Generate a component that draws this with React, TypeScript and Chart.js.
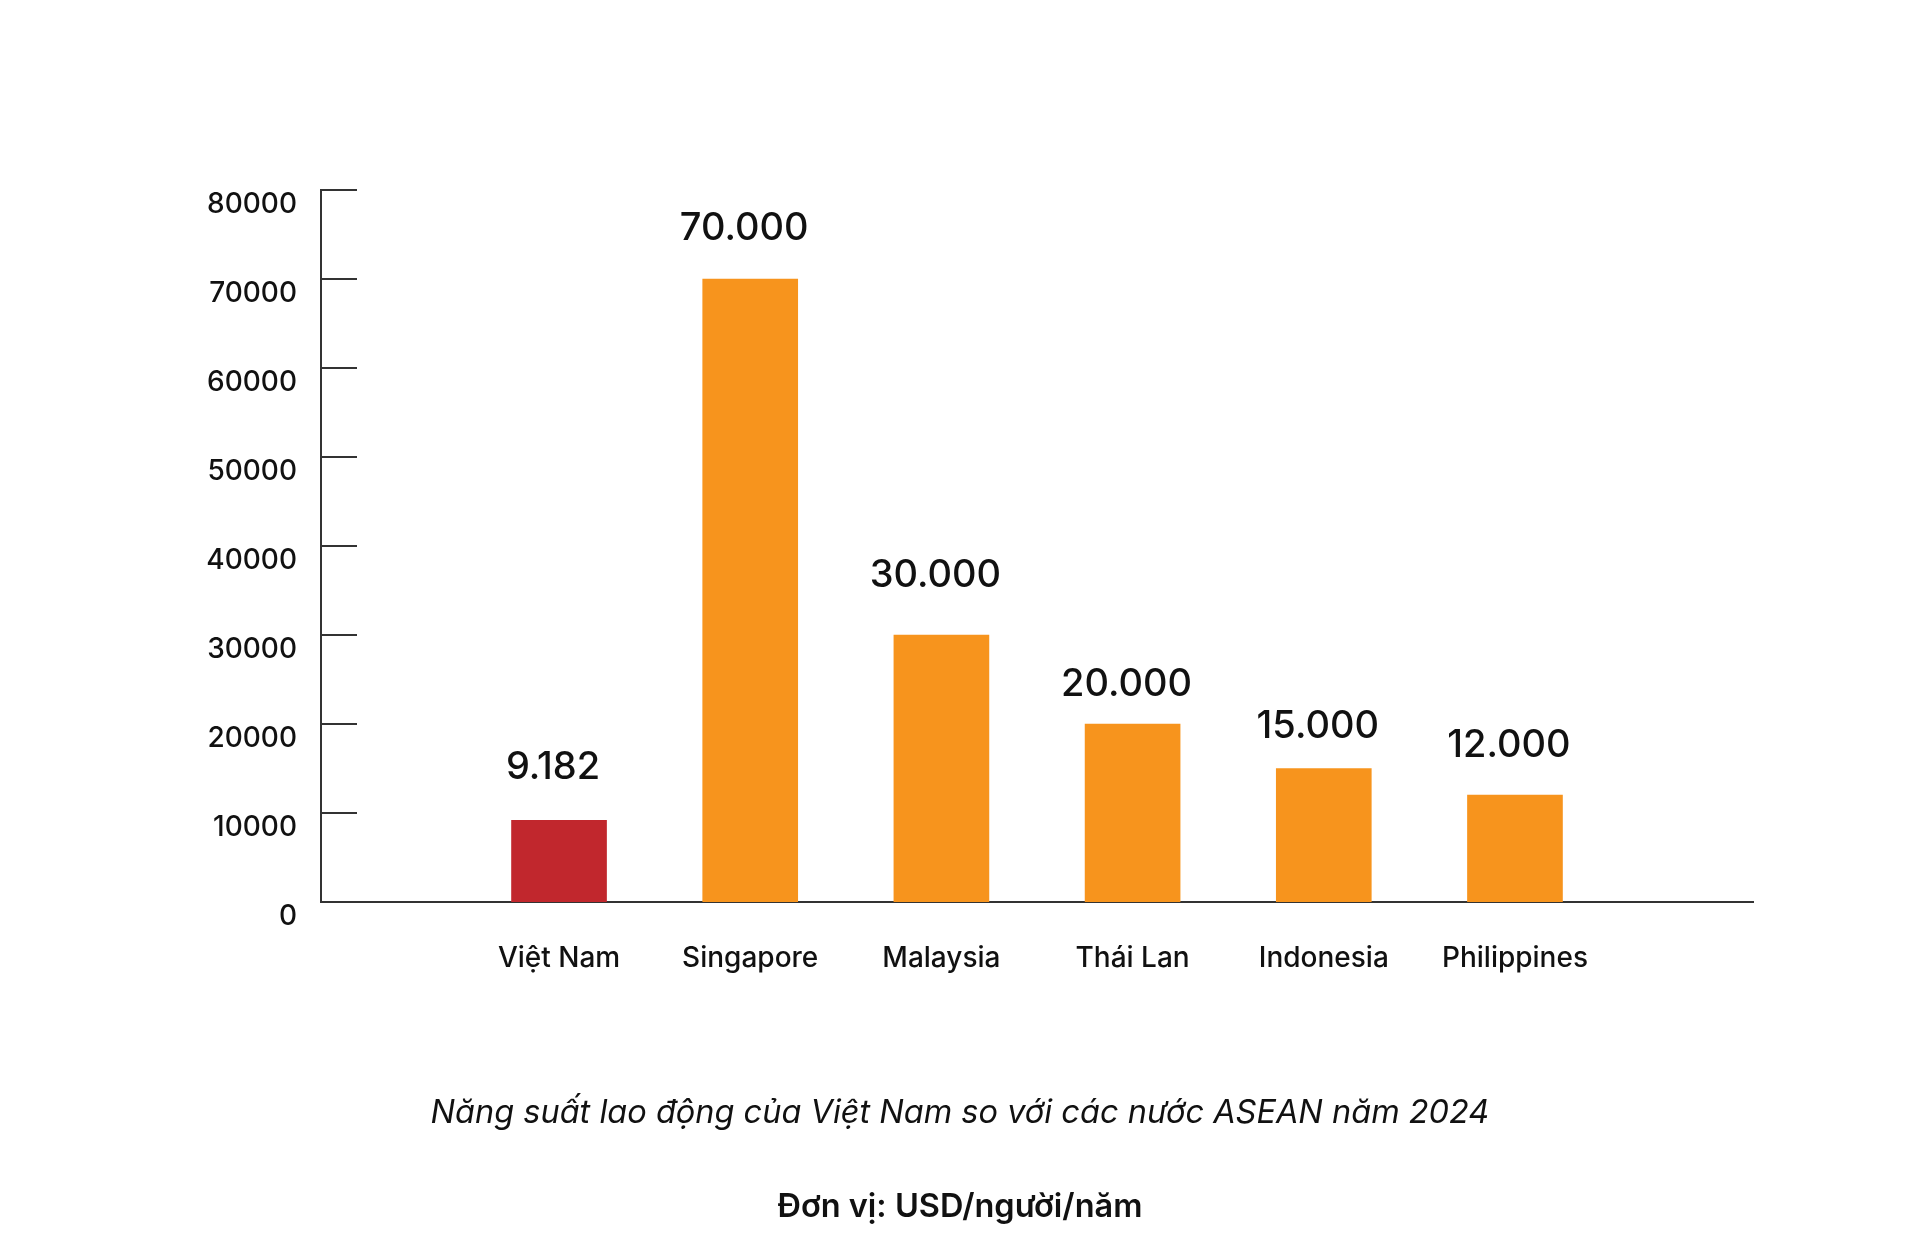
import React, { useEffect, useRef } from "react";
import { Chart, registerables } from "chart.js";

Chart.register(...registerables);

const categories = ["Việt Nam", "Singapore", "Malaysia", "Thái Lan", "Indonesia", "Philippines"];
const values = [9182, 70000, 30000, 20000, 15000, 12000];
const barColors = ["#C1272D", "#F7941D", "#F7941D", "#F7941D", "#F7941D", "#F7941D"];
const yTicks = [0, 10000, 20000, 30000, 40000, 50000, 60000, 70000, 80000];
const caption = "Năng suất lao động của Việt Nam so với các nước ASEAN năm 2024";
const unitText = "Đơn vị: USD/người/năm";

// style: gap (px) between each bar top and its value label baseline
const labelGap = [41, 39, 48, 28, 31, 38];

const FONT = "Inter, 'Open Sans', sans-serif";

function fmt(v: number): string {
  return String(v).replace(/\B(?=(\d{3})+(?!\d))/g, ".");
}

const innerTicks = {
  id: "innerTicks",
  afterDatasetsDraw(chart: any) {
    const y = chart.scales.y;
    const ctx = chart.ctx;
    ctx.save();
    ctx.strokeStyle = "#333";
    ctx.lineWidth = 2;
    for (const t of yTicks) {
      const py = Math.round(y.getPixelForValue(t));
      ctx.beginPath();
      ctx.moveTo(y.right, py);
      ctx.lineTo(y.right + 36, py);
      ctx.stroke();
    }
    ctx.restore();
  },
};

const valueLabels = {
  id: "valueLabels",
  afterDatasetsDraw(chart: any) {
    const ctx = chart.ctx;
    const meta = chart.getDatasetMeta(0);
    ctx.save();
    ctx.fillStyle = "#111";
    ctx.font = `500 38px ${FONT}`;
    ctx.textAlign = "center";
    ctx.textBaseline = "alphabetic";
    meta.data.forEach((el: any, i: number) => {
      ctx.fillText(fmt(values[i]), el.x - 6, el.y - labelGap[i]);
    });
    ctx.restore();
  },
};

export default function App() {
  const ref = useRef<HTMLCanvasElement | null>(null);
  useEffect(() => {
    document.body.style.margin = "0";
    if (!ref.current) return;
    const chart = new Chart(ref.current, {
      type: "bar",
      data: {
        datasets: [
          {
            data: values.map((v, i) => ({ x: i, y: v })),
            backgroundColor: barColors,
            barThickness: 95,
            borderWidth: 0,
          },
        ],
      },
      options: {
        animation: false,
        responsive: false,
        layout: { padding: { left: 0, right: 167, top: 190, bottom: 0 } },
        plugins: { legend: { display: false }, tooltip: { enabled: false } },
        scales: {
          x: {
            type: "linear",
            offset: false,
            min: -1.245,
            max: 6.245,
            afterFit: (s: any) => {
              s.height = 358;
            },
            grid: { display: false, drawTicks: false, offset: false },
            border: { display: true, color: "#333", width: 2 },
            ticks: {
              stepSize: 1,
              autoSkip: false,
              maxRotation: 0,
              padding: 40,
              color: "#111",
              font: { family: FONT, size: 28, weight: "500" },
              callback: (v: any) => {
                const n = Number(v);
                return Number.isInteger(n) && n >= 0 && n < categories.length ? categories[n] : "";
              },
            },
          },
          y: {
            min: 0,
            max: 80000,
            afterFit: (s: any) => {
              s.width = 321;
            },
            grid: { display: false, drawTicks: false },
            border: { display: true, color: "#333", width: 2 },
            ticks: {
              stepSize: 10000,
              padding: 24,
              labelOffset: 15,
              color: "#111",
              font: { family: FONT, size: 28, weight: "500" },
              callback: (v: any) => String(v),
            },
          },
        },
      },
      plugins: [innerTicks, valueLabels],
    });
    return () => chart.destroy();
  }, []);

  return (
    <div style={{ position: "absolute", left: 0, top: 0, width: 1920, height: 1260, background: "#fff" }}>
      <canvas ref={ref} width={1920} height={1260} style={{ position: "absolute", left: 0, top: 0 }} />
      <div
        style={{
          position: "absolute",
          left: 0,
          width: 1920,
          top: 1112 - 20,
          height: 40,
          lineHeight: "40px",
          textAlign: "center",
          fontFamily: FONT,
          fontStyle: "italic",
          fontSize: 32.5,
          color: "#111",
        }}
      >
        {caption}
      </div>
      <div
        style={{
          position: "absolute",
          left: 0,
          width: 1920,
          top: 1206 - 20,
          height: 40,
          lineHeight: "40px",
          textAlign: "center",
          fontFamily: FONT,
          fontWeight: 600,
          fontSize: 32.5,
          color: "#111",
        }}
      >
        {unitText}
      </div>
    </div>
  );
}
